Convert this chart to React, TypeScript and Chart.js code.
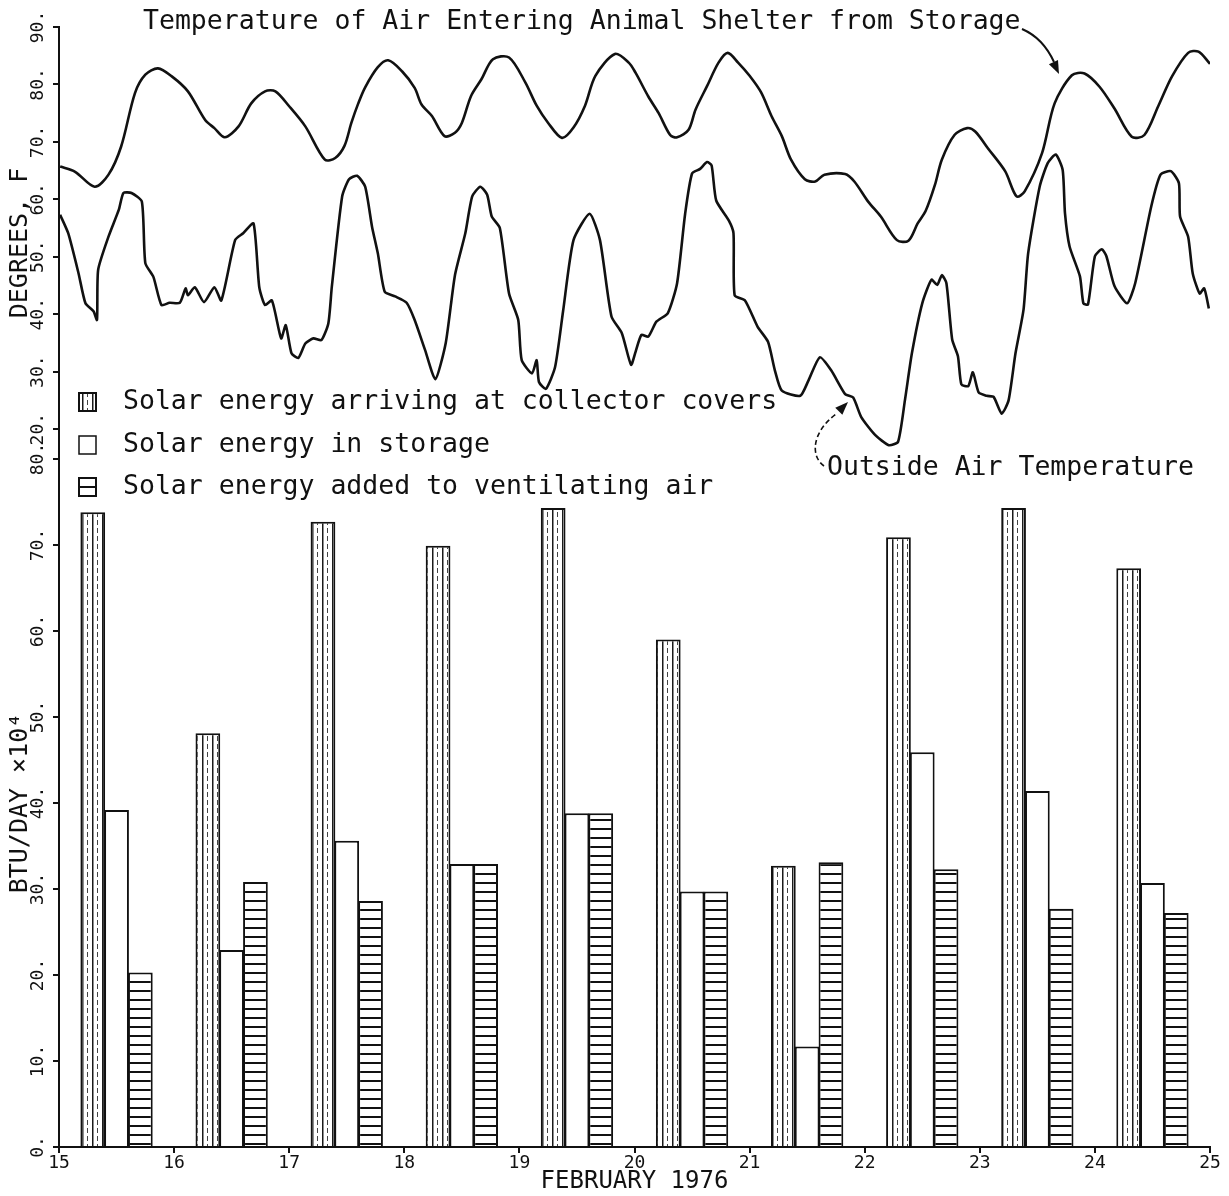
import React, { useEffect, useRef } from 'react';
import { Chart, registerables } from 'chart.js';

Chart.register(...registerables);

// ---------- data ----------
const DAYS = [15, 16, 17, 18, 19, 20, 21, 22, 23, 24];
const COLLECTOR = [73.8, 48.1, 72.7, 69.9, 74.3, 59.0, 32.7, 70.9, 74.3, 67.3];
const STORAGE = [39.2, 22.9, 35.6, 32.9, 38.8, 29.7, 11.7, 45.9, 41.4, 30.7];
const VENTILATING = [20.3, 30.8, 28.6, 32.9, 38.8, 29.7, 33.1, 32.3, 27.7, 27.2];

const BAR_LABELS = [
  'Solar energy arriving at collector covers',
  'Solar energy in storage',
  'Solar energy added to ventilating air',
];
const LINE_LABELS = [
  'Temperature of Air Entering Animal Shelter from Storage',
  'Outside Air Temperature',
];

const TEMP_TICKS = [20, 30, 40, 50, 60, 70, 80, 90];
const BTU_TICKS = [0, 10, 20, 30, 40, 50, 60, 70, 80];
const DAY_TICKS = [15, 16, 17, 18, 19, 20, 21, 22, 23, 24, 25];

// [day of February, degrees F]
const STORAGE_AIR: [number, number][] = [
  [15.01, 65.7], [15.14, 64.8], [15.31, 62.2], [15.43, 64.3], [15.54, 69.2], [15.66, 78.5],
  [15.75, 81.7], [15.86, 82.8], [15.98, 81.4], [16.12, 78.8], [16.27, 73.8], [16.35, 72.4],
  [16.44, 70.8], [16.56, 72.7], [16.67, 76.7], [16.79, 78.8], [16.88, 78.8], [17.0, 76.2],
  [17.14, 72.7], [17.31, 66.9], [17.4, 67.2], [17.48, 69.3], [17.54, 73.3], [17.6, 76.7],
  [17.66, 79.5], [17.77, 83.0], [17.86, 84.2], [17.98, 82.3], [18.09, 79.4], [18.15, 76.5],
  [18.24, 74.5], [18.35, 71.0], [18.44, 71.6], [18.5, 73.3], [18.58, 78.0], [18.67, 80.9],
  [18.77, 84.4], [18.91, 84.7], [19.05, 80.4], [19.15, 76.3], [19.25, 73.3], [19.37, 70.7],
  [19.47, 72.5], [19.57, 76.3], [19.66, 81.5], [19.83, 85.3], [19.95, 83.8], [20.01, 82.0],
  [20.12, 77.9], [20.21, 75.0], [20.31, 71.2], [20.37, 70.8], [20.47, 72.1], [20.53, 75.6],
  [20.63, 79.7], [20.73, 83.8], [20.81, 85.5], [20.9, 83.8], [21.0, 81.5], [21.1, 78.6],
  [21.19, 74.5], [21.28, 71.0], [21.36, 66.9], [21.48, 63.5], [21.57, 63.1], [21.65, 64.3],
  [21.83, 64.4], [21.91, 63.1], [22.03, 59.6], [22.14, 57.0], [22.28, 52.9], [22.38, 52.8],
  [22.46, 55.8], [22.53, 58.0], [22.61, 62.5], [22.67, 66.9], [22.78, 71.2], [22.89, 72.4],
  [22.96, 71.8], [23.07, 68.9], [23.22, 64.9], [23.32, 60.5], [23.39, 61.4], [23.54, 68.0],
  [23.65, 76.7], [23.8, 81.6], [23.91, 81.9], [24.04, 79.6], [24.17, 75.8], [24.32, 70.9],
  [24.43, 71.2], [24.55, 76.2], [24.67, 81.4], [24.81, 85.5], [24.9, 85.7], [25.0, 83.6],
];

const OUTSIDE_AIR: [number, number][] = [
  [15.01, 57.3], [15.08, 54.1], [15.17, 47.1], [15.23, 41.9], [15.3, 40.5], [15.33, 39.0],
  [15.34, 47.7], [15.43, 53.5], [15.52, 58.2], [15.56, 61.1], [15.63, 61.1], [15.72, 59.6],
  [15.75, 48.9], [15.82, 46.5], [15.89, 41.6], [15.96, 42.0], [16.05, 42.0], [16.1, 44.5],
  [16.12, 43.3], [16.18, 44.7], [16.26, 42.1], [16.35, 44.7], [16.41, 42.4], [16.53, 52.9],
  [16.6, 54.1], [16.69, 55.8], [16.74, 44.7], [16.79, 41.6], [16.85, 42.4], [16.93, 35.8],
  [16.97, 38.1], [17.02, 33.2], [17.08, 32.4], [17.14, 34.9], [17.21, 35.8], [17.28, 35.5],
  [17.34, 38.4], [17.37, 44.7], [17.46, 60.5], [17.52, 63.5], [17.59, 64.1], [17.66, 62.2],
  [17.72, 55.2], [17.77, 50.6], [17.83, 43.9], [17.92, 43.1], [18.02, 42.0], [18.09, 39.0],
  [18.18, 33.8], [18.27, 28.7], [18.36, 35.0], [18.44, 46.8], [18.53, 54.1], [18.59, 60.5],
  [18.66, 62.2], [18.72, 60.8], [18.76, 57.0], [18.83, 55.0], [18.91, 43.6], [18.99, 39.0],
  [19.02, 32.0], [19.11, 29.7], [19.15, 32.0], [19.17, 28.2], [19.23, 27.0], [19.31, 30.8],
  [19.38, 40.6], [19.47, 52.9], [19.61, 57.5], [19.7, 52.9], [19.8, 39.6], [19.89, 36.7],
  [19.97, 31.2], [20.01, 33.5], [20.06, 36.4], [20.12, 36.1], [20.19, 38.7], [20.29, 40.2],
  [20.37, 45.4], [20.44, 57.5], [20.5, 64.5], [20.57, 65.3], [20.63, 66.5], [20.67, 65.9],
  [20.71, 59.8], [20.82, 56.3], [20.86, 54.1], [20.87, 43.3], [20.96, 42.4], [21.07, 37.8],
  [21.16, 35.2], [21.22, 30.2], [21.28, 26.7], [21.44, 25.8], [21.51, 28.4], [21.61, 32.5],
  [21.71, 30.2], [21.83, 26.1], [21.9, 25.5], [21.97, 22.1], [22.09, 19.0], [22.21, 17.2],
  [22.29, 17.8], [22.35, 25.1], [22.41, 33.2], [22.5, 41.9], [22.58, 46.0], [22.63, 45.1],
  [22.67, 46.8], [22.71, 45.4], [22.76, 35.6], [22.81, 32.7], [22.84, 27.8], [22.9, 27.5],
  [22.94, 29.9], [22.99, 26.4], [23.06, 25.8], [23.12, 25.6], [23.19, 22.7], [23.25, 25.0],
  [23.31, 33.2], [23.38, 40.8], [23.42, 50.6], [23.52, 62.2], [23.59, 66.3], [23.66, 67.8],
  [23.72, 65.1], [23.74, 57.6], [23.78, 51.8], [23.87, 46.6], [23.9, 41.9], [23.94, 41.7],
  [24.0, 50.1], [24.06, 51.3], [24.1, 50.1], [24.17, 44.9], [24.28, 41.9], [24.35, 45.4],
  [24.49, 58.8], [24.57, 64.3], [24.66, 64.9], [24.73, 62.8], [24.74, 57.0], [24.81, 53.5],
  [24.85, 47.1], [24.91, 43.6], [24.95, 44.5], [24.99, 41.0],
];

// ---------- styles ----------
const FONT = '"DejaVu Sans Mono", "Liberation Mono", monospace';
const INK = '#111';

function verticalPattern(ctx: CanvasRenderingContext2D): CanvasPattern | string {
  const c = document.createElement('canvas');
  c.width = 10;
  c.height = 8;
  const g = c.getContext('2d');
  if (!g) return '#fff';
  g.fillStyle = '#fff';
  g.fillRect(0, 0, 10, 8);
  g.fillStyle = '#1a1a1a';
  g.fillRect(2, 0, 1.5, 8);
  g.fillStyle = '#444';
  g.fillRect(7, 0, 1, 5);
  return ctx.createPattern(c, 'repeat') || '#fff';
}

function horizontalPattern(ctx: CanvasRenderingContext2D): CanvasPattern | string {
  const c = document.createElement('canvas');
  c.width = 8;
  c.height = 9;
  const g = c.getContext('2d');
  if (!g) return '#fff';
  g.fillStyle = '#fff';
  g.fillRect(0, 0, 8, 9);
  g.fillStyle = '#111';
  g.fillRect(0, 0, 8, 2);
  return ctx.createPattern(c, 'repeat') || '#fff';
}

function arrowHead(ctx: CanvasRenderingContext2D, fx: number, fy: number, tx: number, ty: number) {
  const a = Math.atan2(ty - fy, tx - fx);
  const len = 13;
  const hw = 5;
  ctx.beginPath();
  ctx.moveTo(tx, ty);
  ctx.lineTo(tx - len * Math.cos(a) + hw * Math.sin(a), ty - len * Math.sin(a) - hw * Math.cos(a));
  ctx.lineTo(tx - len * Math.cos(a) - hw * Math.sin(a), ty - len * Math.sin(a) + hw * Math.cos(a));
  ctx.closePath();
  ctx.fill();
}

const annotationPlugin = {
  id: 'annotations',
  afterDraw(chart: any) {
    const ctx: CanvasRenderingContext2D = chart.ctx;
    const ds = chart.data.datasets;
    ctx.save();
    ctx.fillStyle = INK;
    ctx.strokeStyle = INK;
    ctx.font = `26.5px ${FONT}`;
    ctx.textBaseline = 'middle';
    ctx.textAlign = 'left';

    // curve labels
    ctx.fillText(ds[0].label, 143, 22);
    ctx.fillText(ds[1].label, 827, 468);

    // arrow to storage-air curve
    ctx.lineWidth = 2;
    ctx.beginPath();
    ctx.moveTo(1022, 29);
    ctx.quadraticCurveTo(1043, 38, 1054, 62);
    ctx.stroke();
    arrowHead(ctx, 1051, 57, 1059, 74);

    // arrow to outside-air curve
    ctx.lineWidth = 1.6;
    ctx.setLineDash([5, 3]);
    ctx.beginPath();
    ctx.moveTo(824, 466);
    ctx.bezierCurveTo(810, 456, 812, 432, 836, 414);
    ctx.stroke();
    ctx.setLineDash([]);
    arrowHead(ctx, 834, 416, 848, 402);

    // legend for bars
    const rows = [402, 445, 487];
    for (let i = 0; i < 3; i++) {
      const d = ds[i + 2];
      const y = rows[i];
      ctx.fillStyle = d.backgroundColor;
      ctx.fillRect(79, y - 9, 17, 18);
      ctx.lineWidth = i === 1 ? 1.5 : 2;
      ctx.strokeStyle = INK;
      ctx.strokeRect(79, y - 9, 17, 18);
      ctx.fillStyle = INK;
      ctx.fillText(d.label, 123, y);
    }
    ctx.restore();
  },
};

// bars are placed at the middle of each day (daily totals)
const barPoints = (vals: number[]) => DAYS.map((d, i) => ({ x: d + 0.5, y: vals[i] }));

export default function App() {
  const ref = useRef<HTMLCanvasElement>(null);

  useEffect(() => {
    const canvas = ref.current;
    if (!canvas) return;
    const c2d = canvas.getContext('2d') as CanvasRenderingContext2D;
    const collectorFill = verticalPattern(c2d);
    const ventFill = horizontalPattern(c2d);

    const tickFont = { family: FONT, size: 18 };
    const axisGrid = {
      display: true,
      drawOnChartArea: false,
      drawTicks: true,
      tickLength: 6,
      color: INK,
      lineWidth: 2,
    };
    const axisBorder = { display: true, color: INK, width: 2 };
    const barStyle = {
      type: 'bar',
      xAxisID: 'x',
      yAxisID: 'yB',
      borderColor: INK,
      borderWidth: 2,
      categoryPercentage: 0.62,
      barPercentage: 1.04,
    };

    const chart = new Chart(canvas, {
      type: 'bar',
      data: {
        datasets: [
          {
            type: 'line',
            label: LINE_LABELS[0],
            data: STORAGE_AIR.map(([x, y]) => ({ x, y })),
            xAxisID: 'x',
            yAxisID: 'yT',
            borderColor: INK,
            borderWidth: 2.6,
            pointRadius: 0,
            tension: 0.3,
            fill: false,
          },
          {
            type: 'line',
            label: LINE_LABELS[1],
            data: OUTSIDE_AIR.map(([x, y]) => ({ x, y })),
            xAxisID: 'x',
            yAxisID: 'yT',
            borderColor: INK,
            borderWidth: 2.6,
            pointRadius: 0,
            tension: 0.2,
            fill: false,
          },
          { ...barStyle, label: BAR_LABELS[0], data: barPoints(COLLECTOR), backgroundColor: collectorFill },
          { ...barStyle, label: BAR_LABELS[1], data: barPoints(STORAGE), backgroundColor: '#ffffff' },
          { ...barStyle, label: BAR_LABELS[2], data: barPoints(VENTILATING), backgroundColor: ventFill },
        ] as any,
      },
      options: {
        responsive: false,
        maintainAspectRatio: false,
        animation: false,
        events: [],
        layout: { padding: { left: 0, right: 19, top: 27, bottom: 0 } },
        plugins: {
          legend: { display: false },
          tooltip: { enabled: false },
          title: { display: false },
        },
        scales: {
          x: {
            type: 'linear',
            position: 'bottom',
            min: 15,
            max: 25,
            offset: false,
            afterBuildTicks: (s: any) => {
              s.ticks = DAY_TICKS.map((v) => ({ value: v }));
            },
            ticks: {
              autoSkip: false,
              maxRotation: 0,
              minRotation: 0,
              padding: 0,
              color: INK,
              font: tickFont,
              callback: (v: any) => String(v),
            },
            grid: { ...axisGrid, offset: false },
            border: axisBorder,
            title: {
              display: true,
              text: 'FEBRUARY 1976',
              color: INK,
              font: { family: FONT, size: 24 },
              padding: { top: 0, bottom: 0 },
            },
            afterFit: (s: any) => {
              s.height = 49;
            },
          },
          yB: {
            type: 'linear',
            position: 'left',
            stack: 'panels',
            stackWeight: 688,
            weight: 0,
            min: 0,
            max: 80,
            afterBuildTicks: (s: any) => {
              s.ticks = BTU_TICKS.map((v) => ({ value: v }));
            },
            ticks: {
              autoSkip: false,
              minRotation: 90,
              maxRotation: 90,
              crossAlign: 'center',
              padding: -2,
              color: INK,
              font: tickFont,
              callback: (v: any) => `${v}.`,
            },
            grid: axisGrid,
            border: axisBorder,
            title: {
              display: true,
              text: 'BTU/DAY ×10⁴',
              color: INK,
              font: { family: FONT, size: 25 },
              padding: { top: 5, bottom: 0 },
            },
            afterFit: (s: any) => {
              s.width = 59;
            },
          },
          yT: {
            type: 'linear',
            position: 'left',
            stack: 'panels',
            stackWeight: 432,
            weight: 1,
            min: 14.8,
            max: 90,
            afterBuildTicks: (s: any) => {
              s.ticks = TEMP_TICKS.map((v) => ({ value: v }));
            },
            ticks: {
              autoSkip: false,
              minRotation: 90,
              maxRotation: 90,
              crossAlign: 'center',
              padding: -2,
              color: INK,
              font: tickFont,
              callback: (v: any) => `${v}.`,
            },
            grid: axisGrid,
            border: axisBorder,
            title: {
              display: true,
              text: 'DEGREES, F',
              color: INK,
              font: { family: FONT, size: 25 },
              padding: { top: 5, bottom: 0 },
            },
            afterFit: (s: any) => {
              s.width = 59;
            },
          },
        },
      } as any,
      plugins: [annotationPlugin],
    });

    return () => {
      chart.destroy();
    };
  }, []);

  return (
    <div style={{ position: 'absolute', left: 0, top: 0, width: 1229, height: 1196, background: '#fff' }}>
      <canvas ref={ref} width={1229} height={1196} style={{ display: 'block' }} />
    </div>
  );
}
